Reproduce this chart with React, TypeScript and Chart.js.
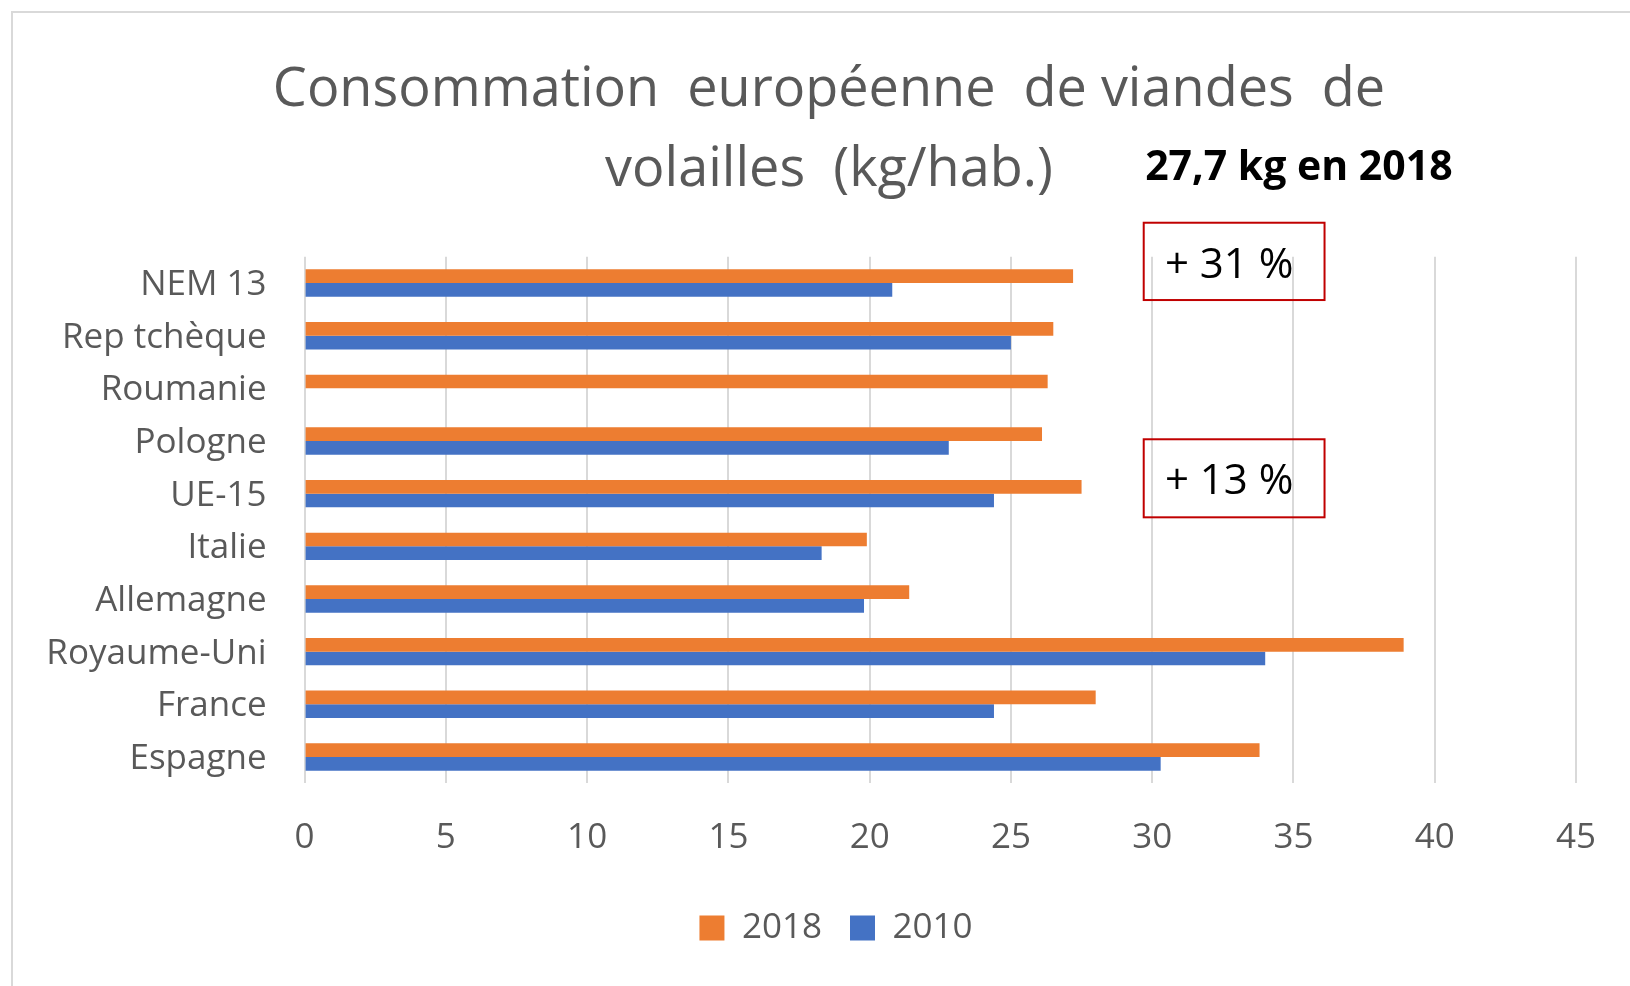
import React, { useEffect, useRef } from "react";
import { Chart, registerables } from "chart.js";

Chart.register(...registerables);

const categories = [
  "NEM 13",
  "Rep tchèque",
  "Roumanie",
  "Pologne",
  "UE-15",
  "Italie",
  "Allemagne",
  "Royaume-Uni",
  "France",
  "Espagne",
];
const values2018 = [27.2, 26.5, 26.3, 26.1, 27.5, 19.9, 21.4, 38.9, 28.0, 33.8];
const values2010 = [20.8, 25.0, null, 22.8, 24.4, 18.3, 19.8, 34.0, 24.4, 30.3];
const seriesLabels = ["2018", "2010"];
const titleLines = ["Consommation  européenne  de viandes  de", "volailles  (kg/hab.)"];
const noteText = "27,7 kg en 2018";
const boxTexts = ["+ 31 %", "+ 13 %"];

const ORANGE = "#ED7D31";
const BLUE = "#4472C4";
const GREY_TEXT = "#595959";
const GRID = "#D9D9D9";
const FONT = "'Open Sans', 'DejaVu Sans', sans-serif";

// annotation placement in data units (x: value axis, y: category index)
const annotationLayout = {
  note: { x: 29.75, y: -2.17 },
  boxes: [
    { x0: 29.7, x1: 36.1, y0: -1.145, y1: 0.323, tx: 30.45, ty: -0.314 },
    { x0: 29.7, x1: 36.1, y0: 2.967, y1: 4.449, tx: 30.45, ty: 3.77 },
  ],
};

const blockPlugin = {
  id: "blockCentering",
  afterLayout(chart: any) {
    const t = chart.titleBlock;
    if (t) {
      t.left = 82;
      t.width = t.right - t.left;
    }
    const lg = chart.legend;
    if (lg) {
      lg.left = 96;
      lg.width = lg.right - lg.left;
    }
  },
};

const annotationPlugin = {
  id: "annotations",
  afterDraw(chart: any) {
    const ctx = chart.ctx;
    const xs = chart.scales.x;
    const ys = chart.scales.y;
    ctx.save();
    ctx.fillStyle = "#000";
    ctx.textBaseline = "middle";
    ctx.textAlign = "left";
    ctx.font = `bold 41px ${FONT}`;
    ctx.fillText(
      noteText,
      xs.getPixelForValue(annotationLayout.note.x),
      ys.getPixelForValue(annotationLayout.note.y)
    );
    annotationLayout.boxes.forEach((b, i) => {
      const x0 = xs.getPixelForValue(b.x0);
      const x1 = xs.getPixelForValue(b.x1);
      const y0 = ys.getPixelForValue(b.y0);
      const y1 = ys.getPixelForValue(b.y1);
      ctx.strokeStyle = "#C00000";
      ctx.lineWidth = 2;
      ctx.strokeRect(x0, y0, x1 - x0, y1 - y0);
      ctx.font = `42px ${FONT}`;
      ctx.fillStyle = "#000";
      ctx.fillText(boxTexts[i], xs.getPixelForValue(b.tx), ys.getPixelForValue(b.ty));
    });
    ctx.restore();
  },
};

export default function App() {
  const ref = useRef<HTMLCanvasElement | null>(null);

  useEffect(() => {
    if (!ref.current) return;
    const chart = new Chart(ref.current, {
      type: "bar",
      data: {
        labels: categories,
        datasets: [
          {
            label: seriesLabels[0],
            data: values2018,
            backgroundColor: ORANGE,
            borderWidth: 0,
            categoryPercentage: 0.52,
            barPercentage: 1.0,
          },
          {
            label: seriesLabels[1],
            data: values2010,
            backgroundColor: BLUE,
            borderWidth: 0,
            categoryPercentage: 0.52,
            barPercentage: 1.0,
          },
        ],
      },
      options: {
        indexAxis: "y",
        responsive: false,
        animation: false,
        devicePixelRatio: 1,
        layout: { padding: { left: 20, right: 54, top: 51, bottom: 30.5 } },
        scales: {
          x: {
            min: 0,
            max: 45,
            ticks: {
              stepSize: 5,
              color: GREY_TEXT,
              font: { family: FONT, size: 35 },
              padding: 34,
              maxRotation: 0,
            },
            grid: { color: GRID, lineWidth: 2, drawTicks: false },
            border: { display: false },
            afterFit: (scale: any) => {
              scale.height = 99.2;
            },
          },
          y: {
            ticks: {
              color: GREY_TEXT,
              font: { family: FONT, size: 35 },
              padding: 38,
              labelOffset: 2,
            },
            grid: { display: false, drawTicks: false },
            border: { display: false },
            afterFit: (scale: any) => {
              scale.width = 284.6;
            },
          },
        },
        plugins: {
          title: {
            display: true,
            text: titleLines,
            color: GREY_TEXT,
            font: { family: FONT, size: 54, weight: "normal", lineHeight: 80 / 54 },
            padding: { top: 0, bottom: 45.7 },
          },
          legend: {
            position: "bottom",
            labels: {
              color: GREY_TEXT,
              font: { family: FONT, size: 35 },
              boxWidth: 25,
              boxHeight: 25,
              padding: 28,
            },
          },
          tooltip: { enabled: false },
        },
      },
      plugins: [blockPlugin, annotationPlugin],
    } as any);
    return () => chart.destroy();
  }, []);

  return (
    <div
      style={{
        position: "fixed",
        left: 0,
        top: 0,
        width: 1630,
        height: 986,
        overflow: "hidden",
        background: "#fff",
      }}
    >
      <div
        style={{
          position: "absolute",
          left: 11,
          top: 11,
          width: 1700,
          height: 1100,
          border: "2px solid #D9D9D9",
        }}
      />
      <canvas
        ref={ref}
        width={1630}
        height={986}
        style={{ position: "absolute", left: 0, top: 0, width: 1630, height: 986 }}
      />
    </div>
  );
}
